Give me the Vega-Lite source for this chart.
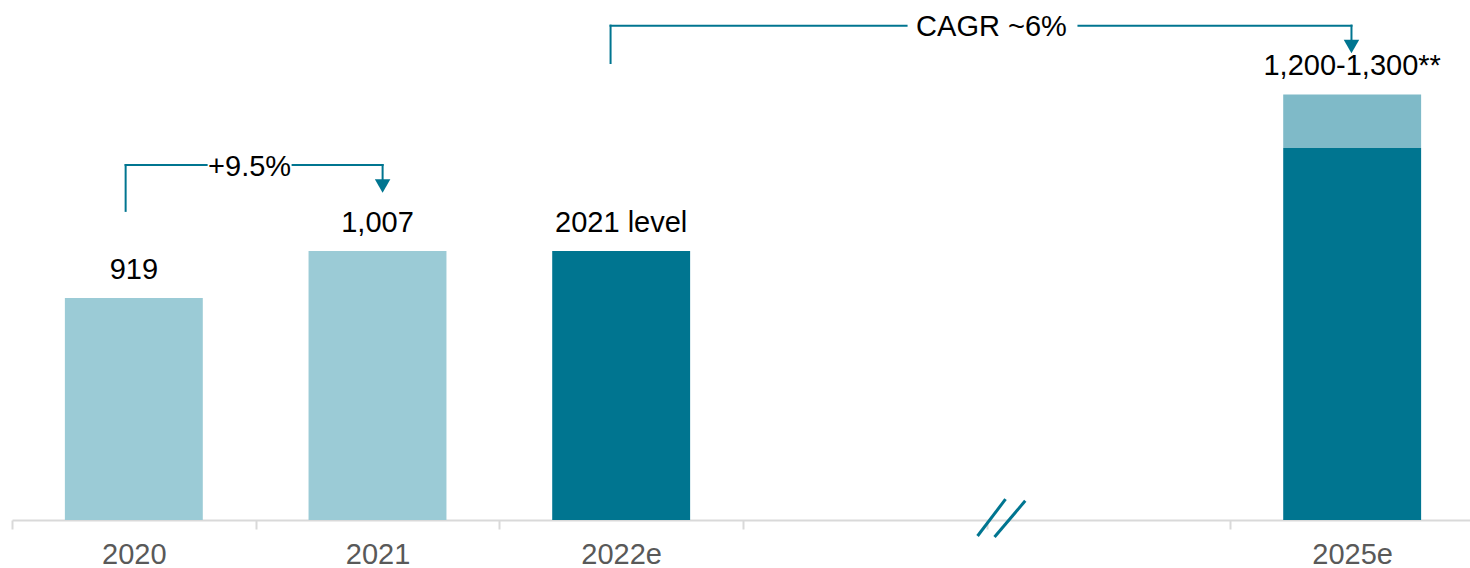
{
  "$schema": "https://vega.github.io/schema/vega-lite/v6.json",
  "width": 1458,
  "height": 520,
  "autosize": {"type": "none"},
  "padding": {"left": 12, "top": 0, "right": 0, "bottom": 48},
  "background": "white",
  "config": {"view": {"stroke": null}, "font": "Liberation Sans"},
  "datasets": {
    "bars": [
      {"year": "2020", "value": 919, "type": "actual"},
      {"year": "2021", "value": 1007, "type": "actual"},
      {"year": "2022e", "value": 1007, "type": "estimate"},
      {"year": "2025e", "value": 1200, "type": "estimate"}
    ],
    "range": [
      {"year": "2025e", "low": 1200, "high": 1300}
    ],
    "labels": [
      {"year": "2020", "value": 919, "label": "919"},
      {"year": "2021", "value": 1007, "label": "1,007"},
      {"year": "2022e", "value": 1007, "label": "2021 level"},
      {"year": "2025e", "value": 1300, "label": "1,200-1,300**"}
    ],
    "growth": [
      {"from": "2020", "to": "2021", "label": "+9.5%"},
      {"from": "2022e", "to": "2025e", "label": "CAGR ~6%"}
    ],
    "axisbreak": [
      {"year": "gap1"}
    ]
  },
  "layer": [
    {
      "data": {"name": "bars"},
      "mark": {"type": "bar", "width": {"band": 0.566}},
      "encoding": {
        "x": {
          "field": "year", "type": "nominal", "sort": null,
          "scale": {"domain": ["2020", "2021", "2022e", "gap1", "gap2", "2025e"], "range": [0, 1462], "paddingInner": 0, "paddingOuter": 0},
          "axis": {
            "title": null,
            "labelExpr": "indexof(datum.label, 'gap') == 0 ? '' : datum.label",
            "tickBand": "extent",
            "domainColor": "#D9D9D9", "domainWidth": 2,
            "tickColor": "#D9D9D9", "tickWidth": 2, "tickSize": 9,
            "labelFontSize": 29, "labelColor": "#595959", "labelPadding": 11,
            "labelAngle": 0, "labelFont": "Liberation Sans", "grid": false
          }
        },
        "y": {"field": "value", "type": "quantitative", "scale": {"domain": [503, 1477], "zero": false, "nice": false}, "axis": null},
        "y2": {"datum": 503},
        "color": {"field": "type", "type": "nominal", "scale": {"domain": ["actual", "estimate"], "range": ["#9BCBD6", "#007590"]}, "legend": null}
      }
    },
    {
      "data": {"name": "range"},
      "mark": {"type": "bar", "width": {"band": 0.566}, "color": "#7FBAC8"},
      "encoding": {
        "x": {"field": "year", "type": "nominal"},
        "y": {"field": "high", "type": "quantitative"},
        "y2": {"field": "low"}
      }
    },
    {
      "data": {"name": "labels"},
      "mark": {"type": "text", "fontSize": 29, "color": "#000000", "baseline": "alphabetic", "align": "center", "dy": -19},
      "encoding": {
        "x": {"field": "year", "type": "nominal"},
        "y": {"field": "value", "type": "quantitative"},
        "text": {"field": "label"}
      }
    },
    {
      "data": {"name": "growth"},
      "transform": [{"filter": "datum.from === '2020'"}],
      "mark": {"type": "rule", "color": "#007590", "strokeWidth": 2, "strokeCap": "square", "xOffset": -8.2},
      "encoding": {"x": {"field": "from", "type": "nominal"}, "y": {"datum": 1082}, "y2": {"datum": 1168}}
    },
    {
      "data": {"name": "growth"},
      "transform": [{"filter": "datum.from === '2020'"}],
      "mark": {"type": "rule", "color": "#007590", "strokeWidth": 2, "strokeCap": "square", "xOffset": -8.2, "x2Offset": 72.8},
      "encoding": {"x": {"field": "from", "type": "nominal"}, "x2": {"field": "from"}, "y": {"datum": 1168}}
    },
    {
      "data": {"name": "growth"},
      "transform": [{"filter": "datum.from === '2020'"}],
      "mark": {"type": "rule", "color": "#007590", "strokeWidth": 2, "strokeCap": "square", "xOffset": -84.9, "x2Offset": 5.1},
      "encoding": {"x": {"field": "to", "type": "nominal"}, "x2": {"field": "to"}, "y": {"datum": 1168}}
    },
    {
      "data": {"name": "growth"},
      "transform": [{"filter": "datum.from === '2020'"}],
      "mark": {"type": "rule", "color": "#007590", "strokeWidth": 2, "strokeCap": "square", "xOffset": 5.1},
      "encoding": {"x": {"field": "to", "type": "nominal"}, "y": {"datum": 1168}, "y2": {"datum": 1140}}
    },
    {
      "data": {"name": "growth"},
      "transform": [{"filter": "datum.from === '2020'"}],
      "mark": {"type": "point", "shape": "triangle-down", "filled": true, "color": "#007590", "opacity": 1, "size": 240, "xOffset": 5.1},
      "encoding": {"x": {"field": "to", "type": "nominal"}, "y": {"datum": 1128.6}}
    },
    {
      "data": {"name": "growth"},
      "transform": [{"filter": "datum.from === '2020'"}],
      "mark": {"type": "text", "fontSize": 29, "color": "#000000", "baseline": "alphabetic", "align": "center", "dx": 115.8, "dy": 11},
      "encoding": {"x": {"field": "from", "type": "nominal"}, "y": {"datum": 1168}, "text": {"field": "label"}}
    },
    {
      "data": {"name": "growth"},
      "transform": [{"filter": "datum.from === '2022e'"}],
      "mark": {"type": "rule", "color": "#007590", "strokeWidth": 2, "strokeCap": "square", "xOffset": -10.6},
      "encoding": {"x": {"field": "from", "type": "nominal"}, "y": {"datum": 1359}, "y2": {"datum": 1429}}
    },
    {
      "data": {"name": "growth"},
      "transform": [{"filter": "datum.from === '2022e'"}],
      "mark": {"type": "rule", "color": "#007590", "strokeWidth": 2, "strokeCap": "square", "xOffset": -10.6, "x2Offset": 285.4},
      "encoding": {"x": {"field": "from", "type": "nominal"}, "x2": {"field": "from"}, "y": {"datum": 1429}}
    },
    {
      "data": {"name": "growth"},
      "transform": [{"filter": "datum.from === '2022e'"}],
      "mark": {"type": "rule", "color": "#007590", "strokeWidth": 2, "strokeCap": "square", "xOffset": -273.7, "x2Offset": -0.7},
      "encoding": {"x": {"field": "to", "type": "nominal"}, "x2": {"field": "to"}, "y": {"datum": 1429}}
    },
    {
      "data": {"name": "growth"},
      "transform": [{"filter": "datum.from === '2022e'"}],
      "mark": {"type": "rule", "color": "#007590", "strokeWidth": 2, "strokeCap": "square", "xOffset": -0.7},
      "encoding": {"x": {"field": "to", "type": "nominal"}, "y": {"datum": 1429}, "y2": {"datum": 1402}}
    },
    {
      "data": {"name": "growth"},
      "transform": [{"filter": "datum.from === '2022e'"}],
      "mark": {"type": "point", "shape": "triangle-down", "filled": true, "color": "#007590", "opacity": 1, "size": 240, "xOffset": -0.7},
      "encoding": {"x": {"field": "to", "type": "nominal"}, "y": {"datum": 1390}}
    },
    {
      "data": {"name": "growth"},
      "transform": [{"filter": "datum.from === '2022e'"}],
      "mark": {"type": "text", "fontSize": 29, "color": "#000000", "baseline": "alphabetic", "align": "center", "dx": -360.7, "dy": 10},
      "encoding": {"x": {"field": "to", "type": "nominal"}, "y": {"datum": 1429}, "text": {"field": "label"}}
    },
    {
      "data": {"name": "axisbreak"},
      "mark": {"type": "rule", "color": "#007590", "strokeWidth": 3, "xOffset": 112.7, "x2Offset": 140.7},
      "encoding": {"x": {"field": "year", "type": "nominal"}, "x2": {"field": "year"}, "y": {"datum": 473}, "y2": {"datum": 542}}
    },
    {
      "data": {"name": "axisbreak"},
      "mark": {"type": "rule", "color": "#007590", "strokeWidth": 3, "xOffset": 129.7, "x2Offset": 160.4},
      "encoding": {"x": {"field": "year", "type": "nominal"}, "x2": {"field": "year"}, "y": {"datum": 471}, "y2": {"datum": 539}}
    }
  ]
}
